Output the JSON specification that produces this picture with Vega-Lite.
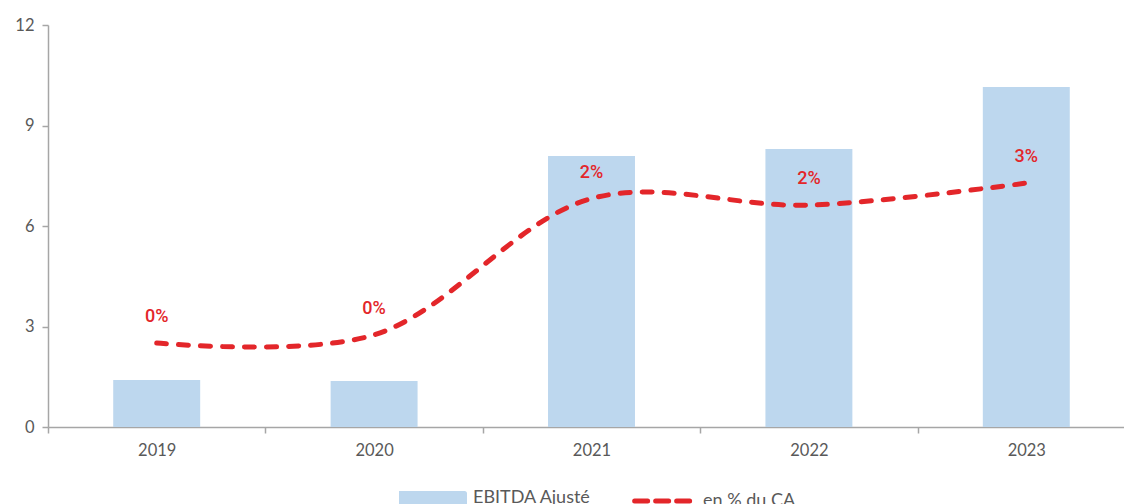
{
  "$schema": "https://vega.github.io/schema/vega-lite/v6.json",
  "width": 1087,
  "height": 402,
  "autosize": "none",
  "padding": {"left": 48, "top": 25, "right": 0, "bottom": 77},
  "background": "white",
  "config": {"view": {"stroke": null}, "font": "Lato"},
  "data": {"values": [
    {"annee": "2019", "ebitda": 1.40, "pct": 0.0038},
    {"annee": "2020", "ebitda": 1.37, "pct": 0.0049},
    {"annee": "2021", "ebitda": 8.09, "pct": 0.0234},
    {"annee": "2022", "ebitda": 8.30, "pct": 0.0225},
    {"annee": "2023", "ebitda": 10.15, "pct": 0.0255}
  ]},
  "encoding": {
    "x": {"field": "annee", "type": "ordinal", "sort": null,
      "scale": {"paddingInner": 0, "paddingOuter": 0},
      "axis": {"title": null, "labelAngle": 0, "labelFontSize": 16.5, "labelColor": "#595959", "labelPadding": 9,
        "tickBand": "extent", "tickSize": 6, "tickColor": "#A6A6A6", "tickWidth": 1.5,
        "domainColor": "#A6A6A6", "domainWidth": 1.5}}
  },
  "layer": [
    {
      "mark": {"type": "bar", "width": {"band": 0.4}},
      "encoding": {
        "y": {"field": "ebitda", "type": "quantitative", "scale": {"domain": [0, 12]},
          "axis": {"title": null, "values": [0, 3, 6, 9, 12], "grid": false, "labelFontSize": 16.5, "labelColor": "#595959",
            "tickSize": 6, "labelPadding": 8, "tickColor": "#A6A6A6", "tickWidth": 1.5, "domainColor": "#A6A6A6", "domainWidth": 1.5}},
        "color": {"datum": "EBITDA Ajusté", "type": "nominal",
          "scale": {"domain": ["EBITDA Ajusté", "en % du CA"], "range": ["#BDD7EE", "#E3262A"]},
          "legend": {"orient": "none", "legendX": 351, "legendY": 439, "direction": "horizontal", "title": null,
            "labelFont": "Lato", "labelFontSize": 18, "labelColor": "#595959",
            "symbolSize": 3969, "labelOffset": 6, "columnPadding": 32,
            "encode": {"symbols": {"update": {
              "shape": {"signal": "datum.value === 'EBITDA Ajusté' ? 'M-1,-0.16H1V0.16H-1Z' : 'M-0.9,0H0.9'"},
              "fill": {"signal": "datum.value === 'EBITDA Ajusté' ? '#BDD7EE' : 'transparent'"},
              "stroke": {"signal": "datum.value === 'EBITDA Ajusté' ? 'transparent' : '#E3262A'"},
              "strokeDash": {"signal": "datum.value === 'EBITDA Ajusté' ? [1, 0] : [13, 8]"},
              "strokeCap": {"value": "round"},
              "strokeWidth": {"value": 5},
              "opacity": {"value": 1}
            }}}}
        }
      }
    },
    {
      "mark": {"type": "line", "interpolate": "catmull-rom", "strokeWidth": 5, "strokeDash": [10, 12], "strokeCap": "round"},
      "encoding": {
        "y": {"field": "pct", "type": "quantitative", "scale": {"domain": [-0.0076, 0.04695], "zero": false}, "axis": null},
        "color": {"datum": "en % du CA", "type": "nominal"}
      }
    },
    {
      "mark": {"type": "text", "dy": -26, "fontSize": 18, "fontWeight": 500, "color": "#E3262A", "font": "Roboto"},
      "encoding": {
        "y": {"field": "pct", "type": "quantitative", "scale": {"domain": [-0.0076, 0.04695], "zero": false}, "axis": null},
        "text": {"field": "pct", "type": "quantitative", "format": ".0%"}
      }
    }
  ],
  "resolve": {"scale": {"y": "independent"}}
}
